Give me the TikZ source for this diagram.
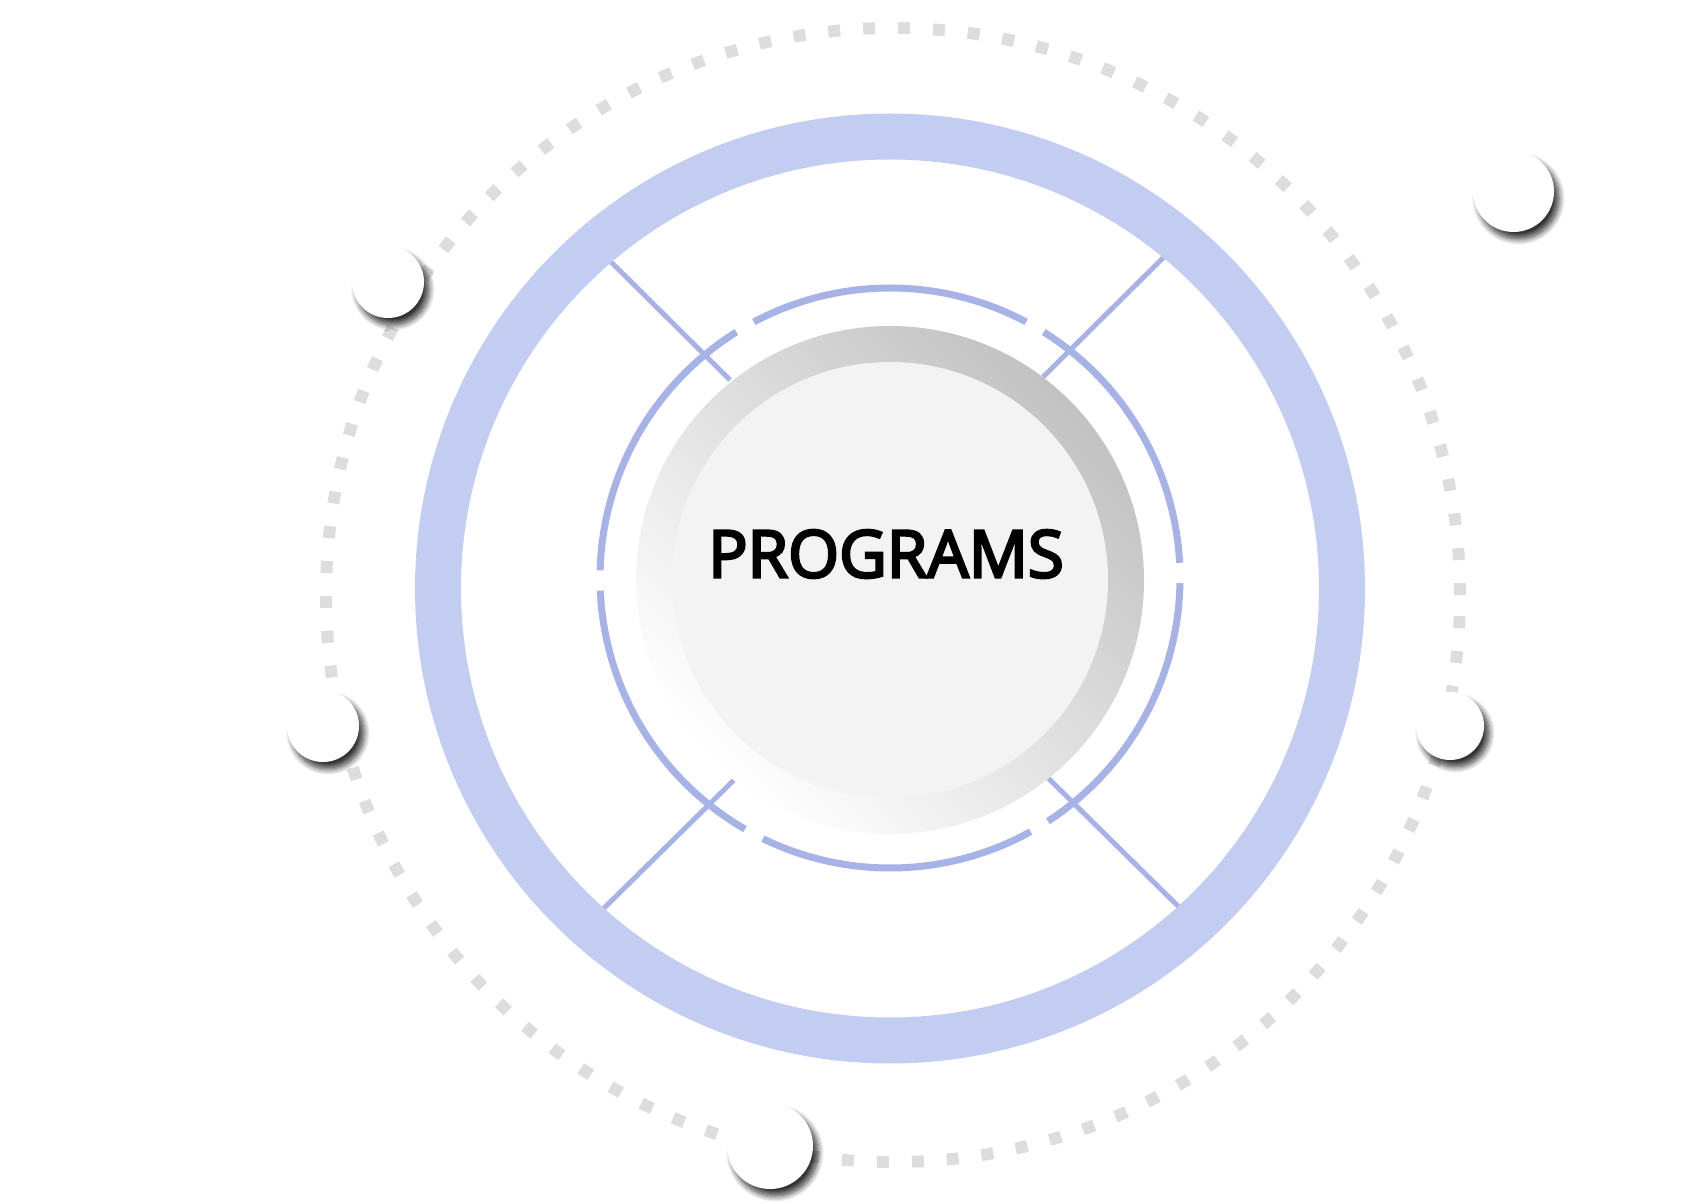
\documentclass[tikz,border=0pt]{standalone}
\usepackage{fontspec}
\setmainfont{Open Sans}
\newfontfamily\titlefont{Open Sans}[FakeBold=4]
\usetikzlibrary{shadows.blur}
\definecolor{ringblue}{HTML}{C3CDF2}
\definecolor{lineblue}{HTML}{A7B3E6}
\definecolor{dotgrey}{HTML}{DDDDDD}
\definecolor{discdark}{HTML}{C2C2C2}
\definecolor{discmid}{HTML}{F5F5F5}
\definecolor{discface}{HTML}{F3F3F3}
\begin{document}
\begin{tikzpicture}[x=1pt,y=1pt,
  dotring/.style={draw=dotgrey, line width=12pt, dash pattern=on 12pt off 22.95pt},
  bigring/.style={draw=ringblue, line width=46pt},
  thinring/.style={draw=lineblue, line width=7pt},
  spoke/.style={draw=lineblue, line width=5pt},
  bubble/.style={circle, fill=white, inner sep=0pt,
    blur shadow={shadow xshift=5pt, shadow yshift=-7pt, shadow blur radius=6pt, shadow blur steps=10, shadow opacity=80}},
  title/.style={font=\titlefont\fontsize{65.5}{70}\selectfont, text=black, inner sep=0pt}]
\useasboundingbox (0,0) rectangle (1681,1203);
\coordinate (C) at (890,614.5);
\coordinate (I) at (890,625);
\coordinate (G) at (890,623);
\coordinate (D) at (893,608);
% dotted outer ring
\draw[dotring] (D) circle[radius=567];
% spokes
\coordinate (s1a) at (601,951);  \coordinate (s1b) at (730,823);
\coordinate (s2a) at (1174,956); \coordinate (s2b) at (1043,826);
\coordinate (s3a) at (594,285);  \coordinate (s3b) at (737,426);
\coordinate (s4a) at (1188,287); \coordinate (s4b) at (1045,428);
\draw[spoke] (s1a) -- (s1b);
\draw[spoke] (s2a) -- (s2b);
\draw[spoke] (s3a) -- (s3b);
\draw[spoke] (s4a) -- (s4b);
% big ring
\draw[bigring] (C) circle[radius=452];
% central disc
\shade[top color=discdark, middle color=discmid, bottom color=white, shading angle=-45] (G) circle[radius=254];
\fill[discface] (G) circle[radius=218];
% thin broken ring
\foreach \a/\b in {3/58, 62/118, 122/178.5, 182.5/240, 244/299, 303/359}{
  \draw[thinring] ([shift={(\a:290)}]I) arc[start angle=\a, end angle=\b, radius=290];
}
% title
\node[title] (t) at (886,649) {PROGRAMS};
% bubbles
\node[bubble, minimum size=72pt] (b1) at (388,921) {};
\node[bubble, minimum size=81pt] (b2) at (1513.5,1011.5) {};
\node[bubble, minimum size=72pt] (b3) at (323,477) {};
\node[bubble, minimum size=68pt] (b4) at (1450,477) {};
\node[bubble, minimum size=86pt] (b5) at (770,57) {};
\end{tikzpicture}
\end{document}
